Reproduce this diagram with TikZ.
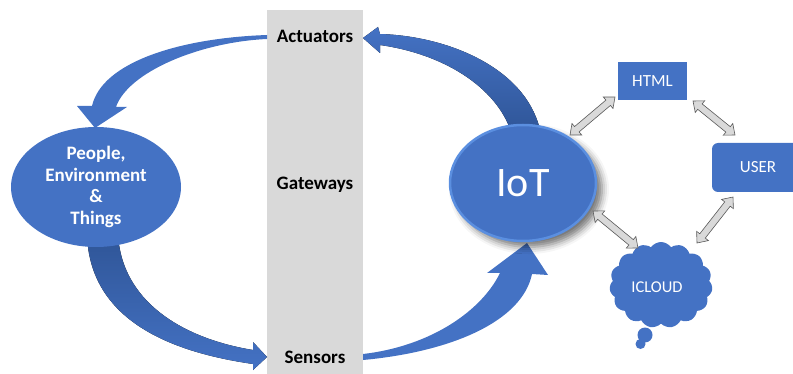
\documentclass[tikz,border=0pt]{standalone}
\usepackage{fontspec}
\setmainfont{Carlito}
\usetikzlibrary{shapes.geometric,shapes.arrows,shapes.symbols,shadows.blur,calc}
\definecolor{ppblue}{HTML}{4472C4}
\definecolor{ppdark}{HTML}{2F5597}
\definecolor{pprim}{HTML}{5B8FE0}
\definecolor{bargray}{HTML}{D9D9D9}
\definecolor{linkfill}{HTML}{D9D9D9}
\definecolor{linkedge}{HTML}{595959}

% two-headed block arrow placed between two named points
\newcommand{\twowaylink}[2]{%
  \path let \p1=($(#2)-(#1)$), \n1={veclen(\x1,\y1)}, \n2={atan2(\y1,\x1)} in
    ($(#1)!0.5!(#2)$) node[twoway, minimum height=\n1, rotate=\n2] {};}

\begin{document}
\begin{tikzpicture}[x=1pt,y=-1pt,
  flow/.style={fill=ppblue, draw=none},
  layer/.style={font=\bfseries\fontsize{19}{22}\selectfont, text=black},
  blob/.style={ellipse, fill=ppblue, text=white, align=center, inner sep=0pt},
  tag/.style={fill=ppblue, text=white, font=\fontsize{17}{20}\selectfont, inner sep=0pt},
  twoway/.style={double arrow, draw=linkedge, fill=linkfill, line width=0.6pt,
    inner sep=3.2pt, minimum width=0pt, double arrow head extend=4pt,
    double arrow tip angle=80, anchor=center}]
\useasboundingbox (0,0) rectangle (793,374);

% gateway layer bar
\fill[bargray] (267,10) rectangle (363,374);

% Actuators -> People, Environment & Things
\fill[flow] (267,35) .. controls (180,38) and (102,62) .. (92,106)
  -- (77,106) -- (95,128) -- (127,107) -- (116,107)
  .. controls (128,72) and (200,42) .. (267,39) -- cycle;

% People, Environment & Things -> Sensors
\fill[top color=ppdark, bottom color=ppblue] (87,235) .. controls (90,320) and (170,352) .. (253,364)
  -- (253,370) -- (267,357) -- (253,342) -- (253,350)
  .. controls (180,338) and (122,300) .. (118,235) -- cycle;

% Sensors -> IoT
\fill[flow] (363,360) .. controls (450,352) and (522,322) .. (532,274)
  -- (548,275) -- (527,243) -- (487,273) -- (500,273)
  .. controls (482,310) and (432,346) .. (363,354) -- cycle;

% IoT -> Actuators
\fill[top color=ppblue, bottom color=ppdark] (380,34) .. controls (450,36) and (530,70) .. (541,135)
  -- (512,135) .. controls (500,92) and (450,55) .. (380,45)
  -- (380,53) -- (363,38) -- (378,27) -- cycle;

% layer labels
\node[layer] (actu) at (315,36) {Actuators};
\node[layer] (gate) at (315,185) {Gateways};
\node[layer] (sens) at (315,357) {Sensors};

% things
\node[blob, minimum width=170, minimum height=120,
  font=\bfseries\fontsize{19}{21.5}\selectfont] (ppl) at (96,187)
  {People,\\Environment\\\&\\Things};

% IoT hub
\node[blob, minimum width=146, minimum height=116, draw=pprim, line width=2.5pt,
  blur shadow={shadow xshift=6pt, shadow yshift=-6pt, shadow blur radius=7pt, shadow opacity=55},
  font=\fontsize{42}{50}\selectfont] (iot) at (523,183) {IoT};

% services
\node[tag, minimum width=69, minimum height=38] (html) at (652.5,81) {HTML};
\node[tag, minimum width=92, minimum height=49, rounded corners=6pt] (user) at (758,167.5) {USER};
\node[tag, cloud, cloud puffs=15, cloud puff arc=110, aspect=1.2,
  minimum width=103, minimum height=86] (cloud) at (661,285) {};
\node[text=white, font=\fontsize{16.5}{19}\selectfont] (cloudtxt) at (657,287) {ICLOUD};
\fill[ppblue] (645,335) circle (7.5) (640.5,344) circle (5);

% two-way links
\coordinate (l1a) at (570,135); \coordinate (l1b) at (615,97);
\coordinate (l2a) at (693,101); \coordinate (l2b) at (735,135);
\coordinate (l3a) at (733,197); \coordinate (l3b) at (697,243);
\coordinate (l4a) at (593,211); \coordinate (l4b) at (638,248);
\twowaylink{l1a}{l1b}
\twowaylink{l2a}{l2b}
\twowaylink{l3a}{l3b}
\twowaylink{l4a}{l4b}
\end{tikzpicture}
\end{document}
